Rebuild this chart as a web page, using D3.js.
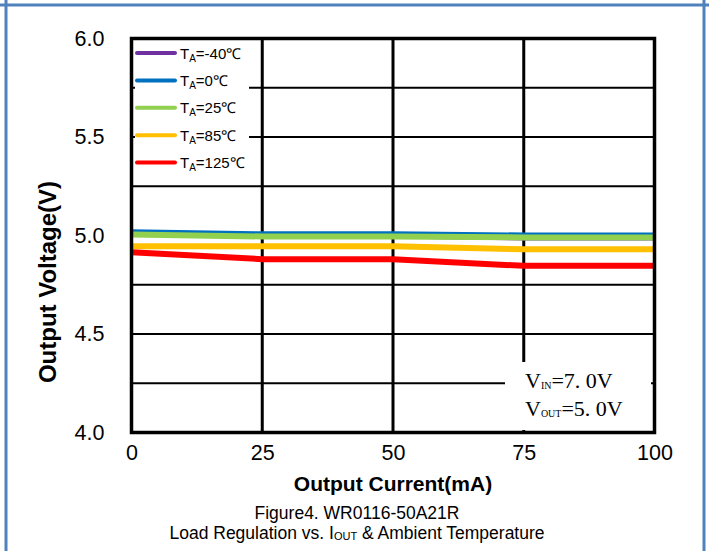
<!DOCTYPE html>
<html>
<head>
<meta charset="utf-8">
<script src="https://cdn.jsdelivr.net/npm/d3@7"></script>
<style>
  html, body { margin: 0; padding: 0; background: #fff; }
  svg { display: block; }
</style>
</head>
<body>
<svg id="chart" width="709" height="551"></svg>
<script>
// Load regulation data: output voltage vs. output current at several ambient temperatures
const currents = [0, 25, 50, 75, 100];              // mA
const temps = ["-40", "0", "25", "85", "125"];      // °C
const vMinus40 = [5.01, 5.00, 5.00, 4.99, 4.99];
const v0 = [5.016, 5.006, 5.006, 5.0, 5.0];
const v25 = [5.005, 4.995, 4.995, 4.99, 4.99];
const v85 = [4.945, 4.945, 4.945, 4.93, 4.93];
const v125 = [4.915, 4.88, 4.88, 4.846, 4.846];
const colors = ["#7030A0", "#0070C0", "#92D050", "#FFC000", "#FF0000"];
const xTicks = [0, 25, 50, 75, 100];
const yTicks = [4.0, 4.5, 5.0, 5.5, 6.0];
const yGrid = [4.25, 4.5, 4.75, 5.0, 5.25, 5.5, 5.75];

const series = [vMinus40, v0, v25, v85, v125].map((vals, i) => ({
  temp: temps[i], color: colors[i],
  points: currents.map((c, j) => ({ x: c, y: vals[j] }))
}));

const svg = d3.select("#chart");

// page frame
svg.append("line").attr("x1", 0).attr("x2", 709).attr("y1", 5).attr("y2", 5)
  .attr("stroke", "#4F81BD").attr("stroke-width", 3);
svg.append("line").attr("x1", 6).attr("x2", 6).attr("y1", 0).attr("y2", 551)
  .attr("stroke", "#4F81BD").attr("stroke-width", 3);
svg.append("line").attr("x1", 704).attr("x2", 704).attr("y1", 0).attr("y2", 551)
  .attr("stroke", "#4F81BD").attr("stroke-width", 3);

const x = d3.scaleLinear().domain([0, 100]).range([131.5, 654.5]);
const y = d3.scaleLinear().domain([4.0, 6.0]).range([432.5, 38.5]);

const plot = svg.append("g");

// grid
plot.append("g").selectAll("line").data(yGrid).join("line")
  .attr("x1", x(0)).attr("x2", x(100))
  .attr("y1", d => y(d)).attr("y2", d => y(d))
  .attr("stroke", "#000").attr("stroke-width", 2);
plot.append("g").selectAll("line").data([25, 50, 75]).join("line")
  .attr("y1", y(4)).attr("y2", y(6))
  .attr("x1", d => x(d)).attr("x2", d => x(d))
  .attr("stroke", "#000").attr("stroke-width", 3);

// series lines
const line = d3.line().x(d => x(d.x)).y(d => y(d.y));
plot.append("g").selectAll("path").data(series).join("path")
  .attr("d", d => line(d.points))
  .attr("fill", "none")
  .attr("stroke", d => d.color)
  .attr("stroke-width", 6)
  .attr("stroke-linejoin", "round");

// legend
const legend = svg.append("g");
legend.append("rect").attr("x", 135).attr("y", 41).attr("width", 114).attr("height", 137)
  .attr("fill", "#fff");
const lg = legend.selectAll("g.item").data(series).join("g")
  .attr("transform", (d, i) => `translate(0, ${53 + i * 27.4})`);
lg.append("line").attr("x1", 137).attr("x2", 175).attr("y1", 0).attr("y2", 0)
  .attr("stroke", d => d.color).attr("stroke-width", 4).attr("stroke-linecap", "round");
const lt = lg.append("text").attr("x", 180).attr("y", 5.5)
  .attr("font-family", "Liberation Sans, Arial, sans-serif").attr("font-size", 15)
  .attr("fill", "#000");
lt.append("tspan").text("T");
lt.append("tspan").attr("font-size", 10).attr("dy", 3).text("A");
lt.append("tspan").attr("dy", -3).text(d => `=${d.temp}℃`);

// input/output annotation box
const note = svg.append("g");
note.append("rect").attr("x", 505).attr("y", 362).attr("width", 146).attr("height", 68)
  .attr("fill", "#fff");
const noteFont = "Liberation Serif, DejaVu Serif, serif";
const n1 = note.append("text").attr("x", 525).attr("y", 388)
  .attr("font-family", noteFont).attr("font-size", 22).attr("fill", "#000");
n1.append("tspan").text("V");
n1.append("tspan").attr("font-size", 10).attr("dy", 1).text("IN");
n1.append("tspan").attr("dy", -1).text("=7. 0V");
const n2 = note.append("text").attr("x", 525).attr("y", 416)
  .attr("font-family", noteFont).attr("font-size", 22).attr("fill", "#000");
n2.append("tspan").text("V");
n2.append("tspan").attr("font-size", 10).attr("dy", 1).text("OUT");
n2.append("tspan").attr("dy", -1).text("=5. 0V");

// plot frame
svg.append("rect").attr("x", x(0)).attr("y", y(6)).attr("width", x(100) - x(0)).attr("height", y(4) - y(6))
  .attr("fill", "none").attr("stroke", "#000").attr("stroke-width", 3.5);

// axes
const font = "Liberation Sans, Arial, sans-serif";
const xAxis = svg.append("g").attr("transform", `translate(0, ${y(4)})`)
  .call(d3.axisBottom(x).tickValues(xTicks).tickSize(0).tickPadding(9).tickFormat(d3.format("d")));
const yAxis = svg.append("g").attr("transform", `translate(${x(0)}, 0)`)
  .call(d3.axisLeft(y).tickValues(yTicks).tickSize(0).tickPadding(27).tickFormat(d3.format(".1f")));
[xAxis, yAxis].forEach(a => {
  a.select(".domain").remove();
  a.selectAll("text").attr("font-family", font).attr("font-size", 21.5).attr("fill", "#000");
});
xAxis.selectAll("text").attr("dy", "0.85em");

svg.append("text").attr("x", 393).attr("y", 491).attr("text-anchor", "middle")
  .attr("font-family", font).attr("font-size", 21).attr("font-weight", "bold")
  .text("Output Current(mA)");
svg.append("text").attr("transform", `translate(56, 282) rotate(-90)`).attr("text-anchor", "middle")
  .attr("font-family", font).attr("font-size", 24).attr("font-weight", "bold")
  .text("Output Voltage(V)");

// caption
svg.append("text").attr("x", 357).attr("y", 519).attr("text-anchor", "middle")
  .attr("font-family", font).attr("font-size", 17.5).text("Figure4. WR0116-50A21R");
const cap = svg.append("text").attr("x", 357).attr("y", 539).attr("text-anchor", "middle")
  .attr("font-family", font).attr("font-size", 17.5);
cap.append("tspan").text("Load Regulation vs. I");
cap.append("tspan").attr("font-size", 11).attr("dy", 1).text("OUT");
cap.append("tspan").attr("dy", -1).text(" & Ambient Temperature");
</script>
</body>
</html>
